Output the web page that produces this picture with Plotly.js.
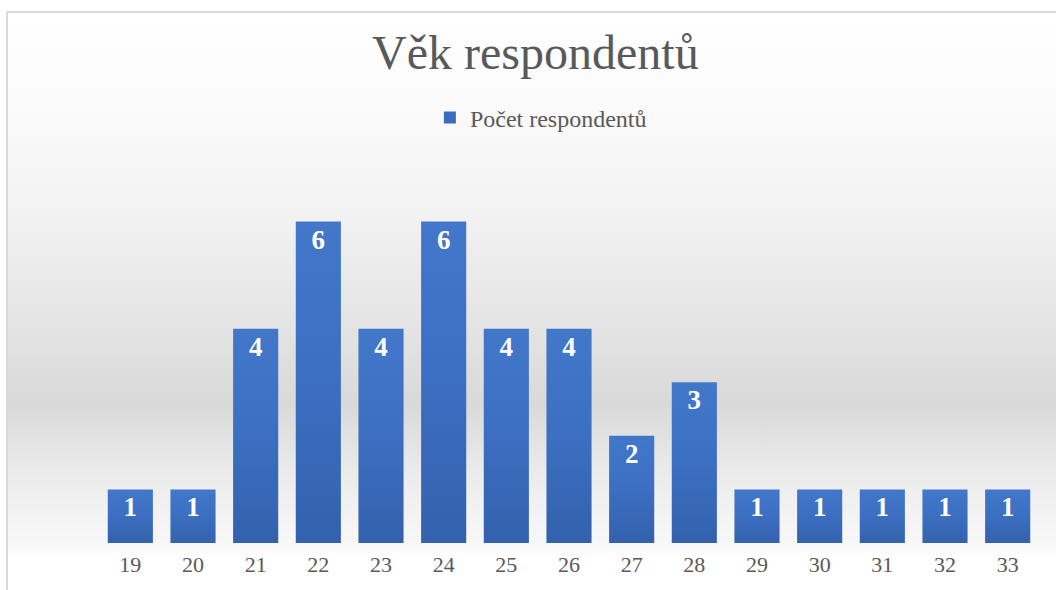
<!DOCTYPE html>
<html>
<head>
<meta charset="utf-8">
<script src="https://cdn.plot.ly/plotly-3.0.1.min.js"></script>
<style>
  html, body { margin: 0; padding: 0; background: #ffffff; }
  #wrap { position: relative; width: 1056px; height: 590px; overflow: hidden; background: #ffffff; }
  #bgbox {
    position: absolute; left: 6px; top: 11px; width: 1100px; height: 600px;
    border-top: 2px solid #d9d9d9; border-left: 2px solid #d9d9d9;
    background: linear-gradient(to bottom, #ffffff 0px, #fbfbfb 90px, #f2f2f2 200px, #e3e3e3 320px, #d9d9d9 390px, #ebebeb 460px, #f8f8f8 530px, #ffffff 545px, #ffffff 600px);
  }
  #chart { position: absolute; left: 0; top: 0; width: 1056px; height: 590px; }
</style>
</head>
<body>
<div id="wrap">
  <div id="bgbox"></div>
  <div id="chart"></div>
</div>
<script>
const categories = ["19","20","21","22","23","24","25","26","27","28","29","30","31","32","33"];
const counts = [1, 1, 4, 6, 4, 6, 4, 4, 2, 3, 1, 1, 1, 1, 1];
const seriesName = "Počet respondentů";
const chartTitle = "Věk respondentů";

const trace = {
  type: "bar",
  x: categories,
  y: counts,
  name: seriesName,
  showlegend: true,
  marker: { color: "#3b6dbf", line: { width: 0 } },
  text: counts.map(String),
  textposition: "inside",
  insidetextanchor: "end",
  textangle: 0,
  textfont: { family: "Liberation Serif, Times New Roman, serif", size: 27, color: "#ffffff", weight: "bold" },
  hoverinfo: "none"
};

const layout = {
  width: 1056,
  height: 590,
  paper_bgcolor: "rgba(0,0,0,0)",
  plot_bgcolor: "rgba(0,0,0,0)",
  margin: { l: 99, r: 17, t: 168, b: 47, pad: 0 },
  bargap: 0.28,
  title: {
    text: chartTitle,
    font: { family: "Liberation Serif, Times New Roman, serif", size: 48, color: "#595959" },
    x: 0.507, xanchor: "center",
    y: 0.912, yref: "container", yanchor: "middle"
  },
  legend: {
    orientation: "h",
    x: 0.352, xanchor: "left",
    y: 0.8, yref: "container", yanchor: "middle",
    font: { family: "Liberation Serif, Times New Roman, serif", size: 24, color: "#595959" },
    bgcolor: "rgba(0,0,0,0)",
    itemwidth: 30
  },
  xaxis: {
    type: "category",
    showgrid: false,
    zeroline: false,
    showline: false,
    ticks: "",
    ticklabelstandoff: 6,
    tickfont: { family: "Liberation Serif, Times New Roman, serif", size: 22, color: "#595959" },
    fixedrange: true
  },
  yaxis: {
    range: [0, 7],
    visible: false,
    showgrid: false,
    zeroline: false,
    fixedrange: true
  }
};

Plotly.newPlot("chart", [trace], layout, { staticPlot: true, displayModeBar: false }).then(function (gd) {
  const svg = gd.querySelector("svg.main-svg");
  const ns = "http://www.w3.org/2000/svg";
  let defs = svg.querySelector("defs");
  if (!defs) { defs = document.createElementNS(ns, "defs"); svg.insertBefore(defs, svg.firstChild); }
  const lg = document.createElementNS(ns, "linearGradient");
  lg.setAttribute("id", "barGrad");
  lg.setAttribute("x1", "0"); lg.setAttribute("y1", "0");
  lg.setAttribute("x2", "0"); lg.setAttribute("y2", "1");
  [["0", "#4277c9"], ["0.5", "#3c6fc1"], ["1", "#3361ad"]].forEach(function (s) {
    const st = document.createElementNS(ns, "stop");
    st.setAttribute("offset", s[0]);
    st.setAttribute("stop-color", s[1]);
    lg.appendChild(st);
  });
  defs.appendChild(lg);
  gd.querySelectorAll("g.point path").forEach(function (p) {
    p.setAttribute("fill", "url(#barGrad)");
    p.style.setProperty("fill", "url(#barGrad)", "important");
  });
});
</script>
</body>
</html>
